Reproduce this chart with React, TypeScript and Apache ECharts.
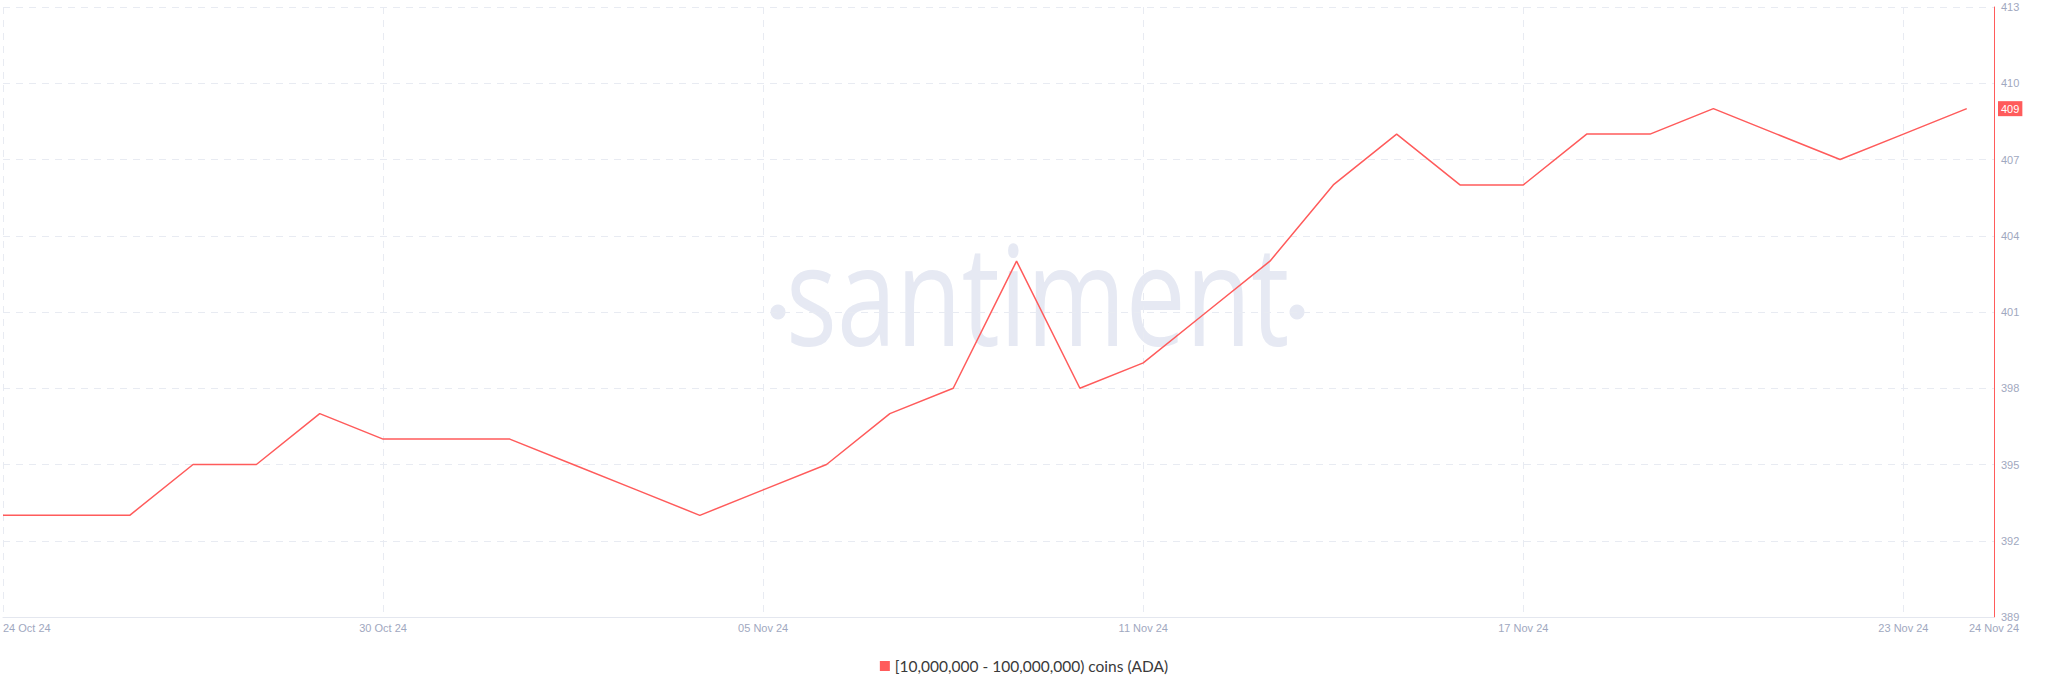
import React, { useEffect, useRef } from "react";
import * as echarts from "echarts";

const dates = [
  "2024-10-24", "2024-10-25", "2024-10-26", "2024-10-27", "2024-10-28", "2024-10-29",
  "2024-10-30", "2024-10-31", "2024-11-01", "2024-11-02", "2024-11-03", "2024-11-04",
  "2024-11-05", "2024-11-06", "2024-11-07", "2024-11-08", "2024-11-09", "2024-11-10",
  "2024-11-11", "2024-11-12", "2024-11-13", "2024-11-14", "2024-11-15", "2024-11-16",
  "2024-11-17", "2024-11-18", "2024-11-19", "2024-11-20", "2024-11-21", "2024-11-22",
  "2024-11-23", "2024-11-24",
];
const holders = [
  393, 393, 393, 395, 395, 397,
  396, 396, 396, 395, 394, 393,
  394, 395, 397, 398, 403, 398,
  399, 401, 403, 406, 408, 406,
  406, 408, 408, 409, 408, 407,
  408, 409,
];
const seriesName = "[10,000,000 - 100,000,000) coins (ADA)";
const yMin = 389;
const yMax = 413;
const yStep = 3;
const lastValue = 409;
const months = ["Jan", "Feb", "Mar", "Apr", "May", "Jun", "Jul", "Aug", "Sep", "Oct", "Nov", "Dec"];

const DAY = 86400000;
const RED = "#ff5b5b";
const AXIS_TEXT = "#9fa8c0";
const WATER = "#e6e9f3";

function fmt(v: number) {
  const d = new Date(v);
  const dd = String(d.getUTCDate()).padStart(2, "0");
  const yy = String(d.getUTCFullYear()).slice(2);
  return `${dd} ${months[d.getUTCMonth()]} ${yy}`;
}

export default function App() {
  const ref = useRef<HTMLDivElement>(null);
  useEffect(() => {
    if (!ref.current) return;
    const chart = echarts.init(ref.current, undefined, { renderer: "svg" });
    const t0 = Date.parse(dates[0] + "T00:00:00Z");
    const data = dates.map((d, i) => [Date.parse(d + "T00:00:00Z"), holders[i]]);
    chart.setOption({
      animation: false,
      backgroundColor: "#ffffff",
      grid: { left: 0, right: 54, top: 7, bottom: 76, containLabel: false },
      graphic: [
        {
          type: "group",
          x: 786,
          y: 221,
          scaleX: 0.763,
          z: -10,
          silent: true,
          children: [
            {
              type: "text",
              x: 0,
              y: 0,
              style: {
                text: "santiment",
                fontFamily: "Open Sans",
                fontSize: 140,
                fontWeight: 500,
                fill: WATER,
                verticalAlign: "top",
                align: "left",
              },
            },
          ],
        },
        { type: "circle", z: -10, silent: true, shape: { cx: 778, cy: 312, r: 7.5 }, style: { fill: WATER } },
        { type: "circle", z: -10, silent: true, shape: { cx: 1297, cy: 312, r: 7.5 }, style: { fill: WATER } },
      ],
      legend: {
        show: true,
        top: 658,
        left: "center",
        padding: 0,
        icon: "rect",
        itemWidth: 10,
        itemHeight: 10,
        textStyle: { fontFamily: "Lato", fontSize: 15.5, color: "#3a3a3a" },
        data: [seriesName],
      },
      xAxis: {
        type: "value",
        min: t0,
        max: t0 + 31.43 * DAY,
        interval: 6 * DAY,
        axisLine: { show: true, lineStyle: { color: "#e4e7ef", width: 1 } },
        axisTick: { show: false },
        splitLine: { show: true, lineStyle: { color: "#e8ebf2", type: [7, 6], width: 1 } },
        axisLabel: {
          formatter: (v: number) => fmt(v),
          color: AXIS_TEXT,
          fontSize: 11,
          fontFamily: "Liberation Sans, Arial, sans-serif",
          margin: 5,
          showMinLabel: true,
          showMaxLabel: true,
          alignMinLabel: "left",
        },
      },
      yAxis: {
        type: "value",
        position: "right",
        min: yMin,
        max: yMax,
        interval: yStep,
        axisLine: { show: true, lineStyle: { color: RED, width: 1 } },
        axisTick: { show: false },
        splitLine: { show: true, lineStyle: { color: "#e8ebf2", type: [7, 6], width: 1 } },
        axisLabel: {
          color: AXIS_TEXT,
          fontSize: 11,
          fontFamily: "Liberation Sans, Arial, sans-serif",
          margin: 7,
        },
        axisPointer: {
          show: true,
          value: lastValue,
          status: "show",
          triggerTooltip: false,
          lineStyle: { opacity: 0, width: 0 },
          label: {
            show: true,
            formatter: (p: any) => String(Math.round(Number(p.value))),
            backgroundColor: RED,
            color: "#ffffff",
            fontSize: 11,
            fontFamily: "Liberation Sans, Arial, sans-serif",
            padding: [2, 3, 2, 3],
            margin: 4,
            borderRadius: 0,
          },
        },
      },
      series: [
        {
          name: seriesName,
          type: "line",
          data,
          showSymbol: false,
          symbol: "none",
          itemStyle: { color: RED },
          lineStyle: { color: RED, width: 1.5 },
          z: 3,
        },
      ],
    });
    return () => chart.dispose();
  }, []);
  return (
    <div
      ref={ref}
      style={{ position: "absolute", left: 0, top: 0, width: 2048, height: 693 }}
    />
  );
}
